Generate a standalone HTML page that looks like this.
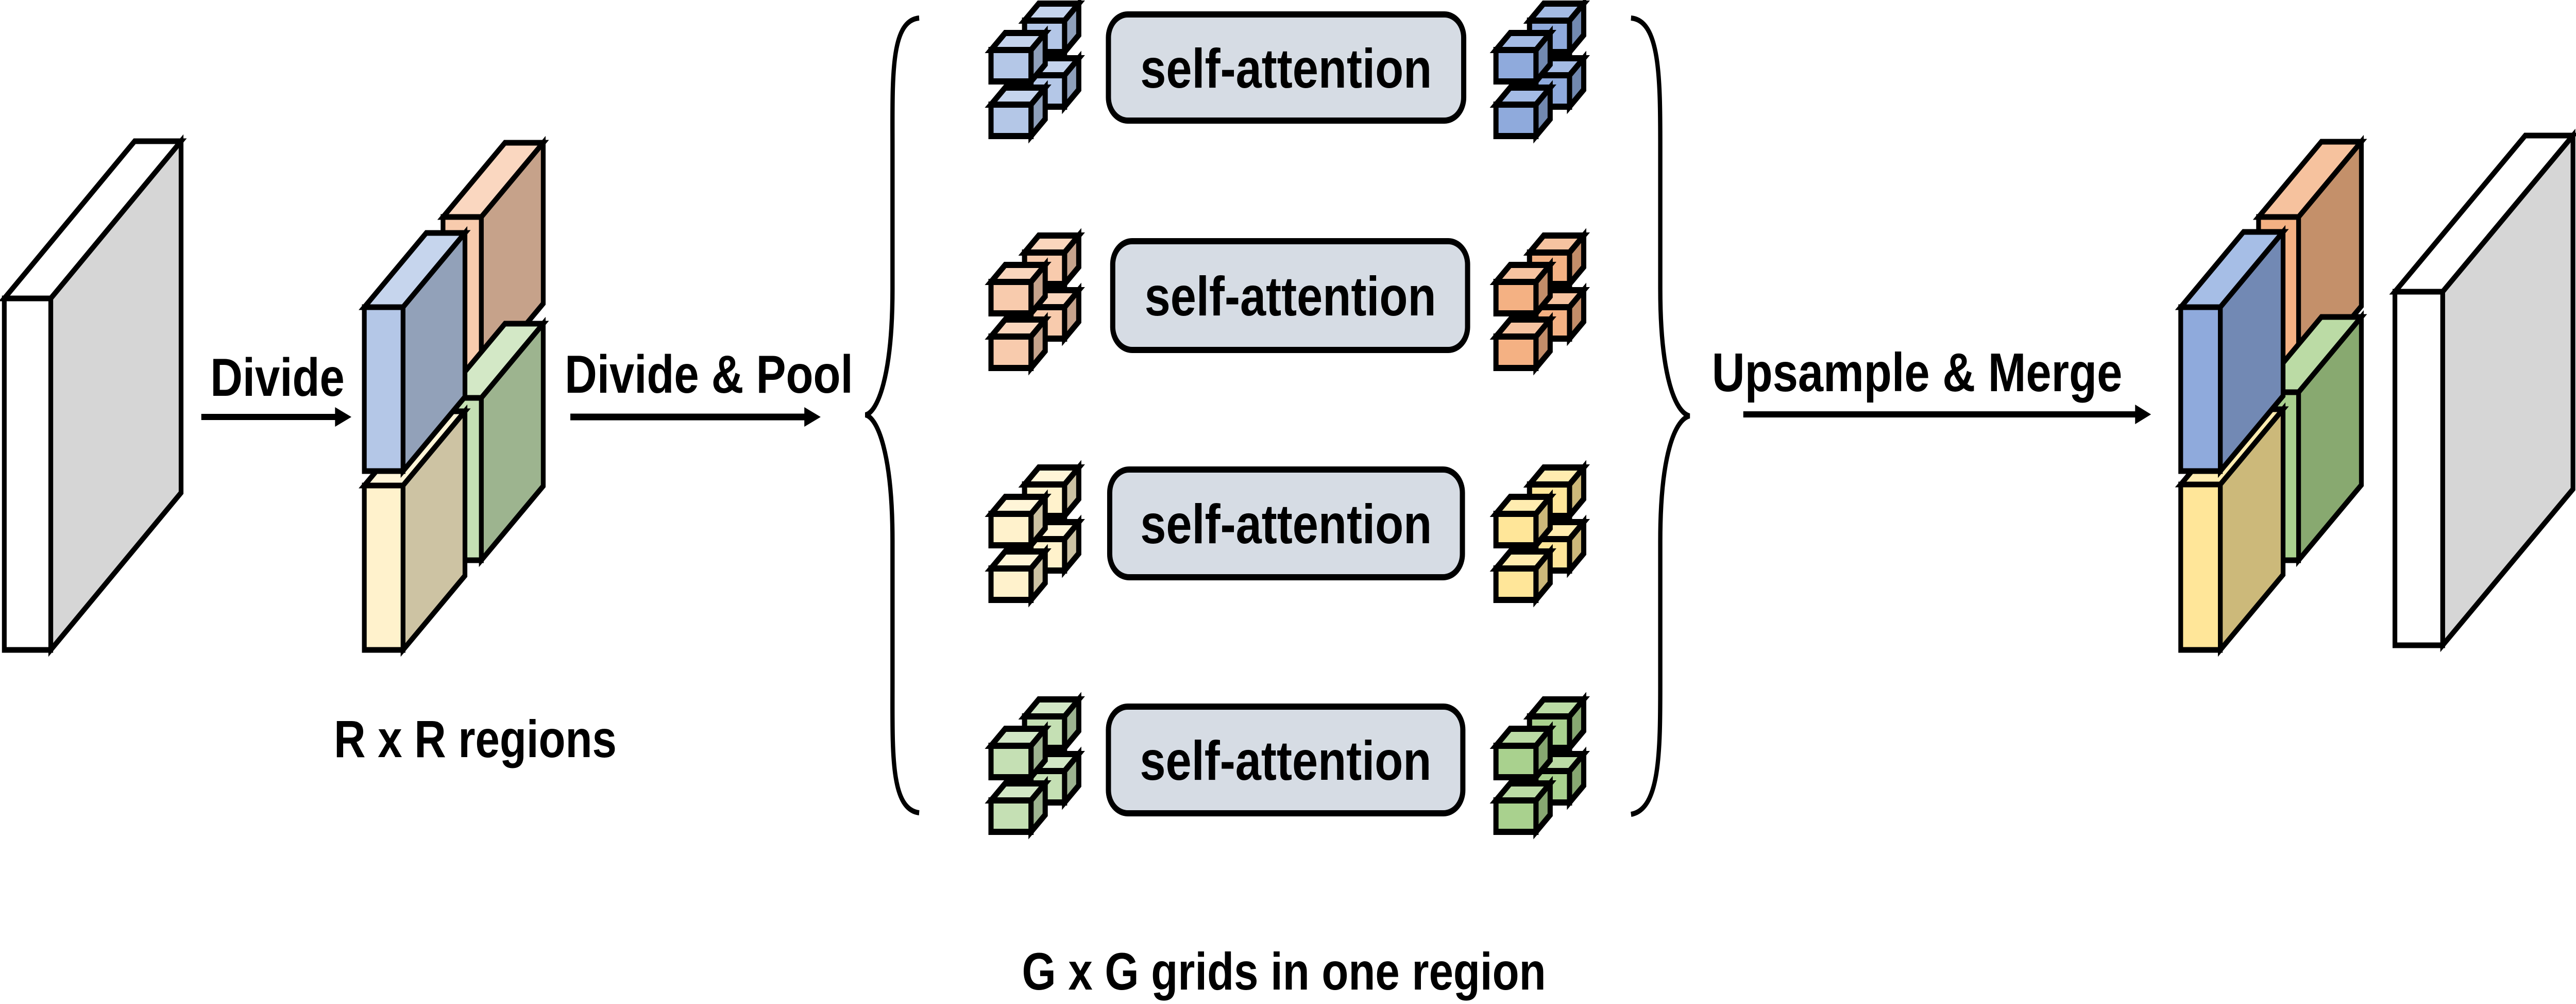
<!DOCTYPE html>
<html><head><meta charset="utf-8"><style>
html,body{margin:0;padding:0;background:#fff;width:100%;height:100%;overflow:hidden;}
svg{display:block;position:absolute;left:0;top:0;width:100vw;height:100vh;}
text{font-family:"Liberation Sans",sans-serif;font-weight:bold;fill:#000;}
.s{stroke:#000;stroke-width:11;stroke-linejoin:miter;}
.c polygon,.c rect{stroke:#000;stroke-width:12;stroke-linejoin:miter;}
</style></head><body>
<svg viewBox="0 0 5989 1948" preserveAspectRatio="none" xmlns="http://www.w3.org/2000/svg">
<defs>
<g id="cube" class="c">
<polygon points="0,0 33,-33 126,-33 93,0" style="fill:var(--t)"/>
<polygon points="93,0 126,-33 126,28 93,61" style="fill:var(--d)"/>
<rect x="0" y="0" width="93" height="61" style="fill:var(--f)"/>
</g>
<g id="cl">
<use href="#cube" x="78" y="0"/>
<use href="#cube" x="78" y="106"/>
<use href="#cube" x="0" y="57"/>
<use href="#cube" x="0" y="163"/>
</g>
</defs>

<g class="s">
<polygon points="10,579 313,274 421,274 118,579" fill="#fff"/>
<polygon points="118,579 421,274 421,956 118,1261" fill="#d6d6d6"/>
<rect x="10" y="579" width="108" height="682" fill="#fff"/>
</g>

<text x="489" y="768" font-size="104">Divide</text>
<line x1="468" y1="809" x2="785" y2="809" stroke="#000" stroke-width="12"/>
<polygon points="779,790 817,809 779,828" fill="#000"/>

<g class="s">
<polygon points="1030,421 1174,277 1263,277 1119,421" fill="#fad7c0"/>
<polygon points="1119,421 1263,277 1263,589 1119,733" fill="#c6a28a"/>
<rect x="1030" y="421" width="89" height="312" fill="#f8cbad"/>

<polygon points="1030,772 1174,628 1263,628 1119,772" fill="#d3e8c6"/>
<polygon points="1119,772 1263,628 1263,943 1119,1087" fill="#9db48f"/>
<rect x="1030" y="772" width="89" height="315" fill="#c5e0b4"/>

<polygon points="847,942 991,798 1081,798 937,942" fill="#fff5d8"/>
<polygon points="937,942 1081,798 1081,1117 937,1261" fill="#cdc3a3"/>
<rect x="847" y="942" width="90" height="319" fill="#fff2cc"/>

<polygon points="847,596 991,452 1081,452 937,596" fill="#c6d5ed"/>
<polygon points="937,596 1081,452 1081,770 937,914" fill="#92a1b9"/>
<rect x="847" y="596" width="90" height="318" fill="#b4c7e7"/>
</g>

<text x="1105" y="1469" font-size="102" text-anchor="middle">R x R regions</text>

<text x="1313" y="762" font-size="104">Divide &amp; Pool</text>
<line x1="1326" y1="809" x2="1875" y2="809" stroke="#000" stroke-width="13"/>
<polygon points="1870,790 1908,809 1870,828" fill="#000"/>

<path d="M2137,35 C2070,40 2075,150 2075,285 L2075,560 C2075,730 2040,800 2012,805 C2040,810 2075,880 2075,1050 L2075,1325 C2075,1460 2070,1570 2137,1577" fill="none" stroke="#000" stroke-width="10"/>
<path d="M3792,35 C3859,40 3860,150 3860,285 L3860,560 C3860,730 3895,800 3928,807 C3895,814 3860,880 3860,1050 L3860,1325 C3860,1460 3859,1570 3792,1580" fill="none" stroke="#000" stroke-width="10"/>

<use href="#cl" x="2304" y="40" style="--f:#b4c7e7;--t:#c5d4ed;--d:#8fa0bb"/>
<use href="#cl" x="2304" y="490" style="--f:#f8cbad;--t:#fad6bd;--d:#c6a38c"/>
<use href="#cl" x="2304" y="940" style="--f:#fff2cc;--t:#fff5d8;--d:#ccc2a3"/>
<use href="#cl" x="2304" y="1390" style="--f:#c5e0b4;--t:#d2e7c6;--d:#9db390"/>
<use href="#cl" x="3478" y="40" style="--f:#8faadc;--t:#a4bbe4;--d:#7289b0"/>
<use href="#cl" x="3478" y="490" style="--f:#f4b183;--t:#f6c3a0;--d:#c38d69"/>
<use href="#cl" x="3478" y="940" style="--f:#ffe699;--t:#ffecb0;--d:#ccb87a"/>
<use href="#cl" x="3478" y="1390" style="--f:#a9d18e;--t:#bbdba5;--d:#87a771"/>

<g fill="#d6dce4" stroke="#000" stroke-width="12">
<rect x="2577" y="28" width="826" height="206" rx="45"/>
<rect x="2587" y="468" width="825" height="211" rx="45"/>
<rect x="2580" y="911" width="820" height="209" rx="45"/>
<rect x="2577" y="1371" width="824" height="207" rx="45"/>
</g>
<g font-size="108" text-anchor="middle">
<text x="2990" y="170">self-attention</text>
<text x="3000" y="612">self-attention</text>
<text x="2990" y="1054">self-attention</text>
<text x="2989" y="1513">self-attention</text>
</g>

<text x="2985" y="1920" font-size="102" text-anchor="middle">G x G grids in one region</text>

<text x="3980" y="759" font-size="106">Upsample &amp; Merge</text>
<line x1="4053" y1="804" x2="4968" y2="804" stroke="#000" stroke-width="12"/>
<polygon points="4964,785 5001,804 4964,823" fill="#000"/>

<g class="s">
<polygon points="5251,421 5397,275 5490,275 5344,421" fill="#f6c29e"/>
<polygon points="5344,421 5490,275 5490,594 5344,740" fill="#c4906a"/>
<rect x="5251" y="421" width="93" height="319" fill="#f4b183"/>

<polygon points="5251,761 5397,615 5490,615 5344,761" fill="#bbdba5"/>
<polygon points="5344,761 5490,615 5490,941 5344,1087" fill="#88a970"/>
<rect x="5251" y="761" width="93" height="326" fill="#a9d18e"/>

<polygon points="5070,940 5216,794 5308,794 5162,940" fill="#ffecb0"/>
<polygon points="5162,940 5308,794 5308,1115 5162,1261" fill="#ccb97a"/>
<rect x="5070" y="940" width="92" height="321" fill="#ffe699"/>

<polygon points="5070,596 5216,450 5308,450 5162,596" fill="#a6bee6"/>
<polygon points="5162,596 5308,450 5308,768 5162,914" fill="#7289b4"/>
<rect x="5070" y="596" width="92" height="318" fill="#8faadc"/>
</g>

<g class="s">
<polygon points="5568,566 5871,263 5982,263 5679,566" fill="#fff"/>
<polygon points="5679,566 5982,263 5982,949 5679,1252" fill="#d6d6d6"/>
<rect x="5568" y="566" width="111" height="686" fill="#fff"/>
</g>
</svg>
</body></html>
